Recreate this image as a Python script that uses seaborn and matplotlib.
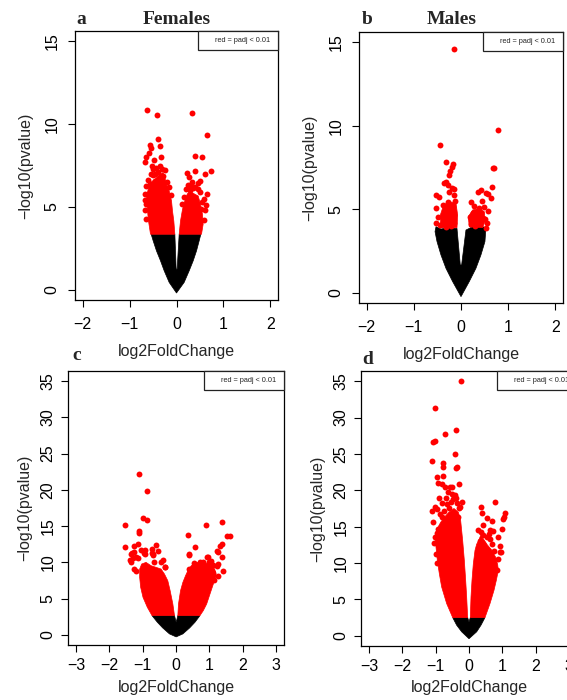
import matplotlib
matplotlib.use('Agg')
import matplotlib.pyplot as plt
from matplotlib.patches import Rectangle
import pandas as pd
import seaborn as sns

sns.set_theme(style='ticks')
plt.rcParams['font.family'] = ['Liberation Sans', 'DejaVu Sans']

# ---- panel a (Females) ----
a_black_x = [0, -0.156, -0.262, -0.34, -0.426, -0.496, -0.539, -0.035, -0.007, 0.014, 0.057, 0.518, 0.482, 0.426, 0.355, 0.27, 0.163]
a_black_y = [-0.18, 0.46, 1.16, 1.76, 2.36, 2.96, 3.36, 3.36, 1.26, 1.26, 3.36, 3.36, 2.96, 2.36, 1.76, 1.16, 0.46]
a_redL_x = [-0.035, -0.057, -0.085, -0.106, -0.156, -0.213, -0.248, -0.284, -0.355, -0.461, -0.553, -0.603, -0.638, -0.624, -0.596, -0.553]
a_redL_y = [3.36, 4.16, 4.76, 5.37, 5.97, 6.37, 6.77, 7.07, 6.97, 6.67, 6.47, 6.07, 5.57, 4.97, 4.16, 3.36]
a_redR_x = [0.057, 0.085, 0.128, 0.177, 0.227, 0.284, 0.39, 0.461, 0.511, 0.553, 0.567, 0.532]
a_redR_y = [3.36, 4.16, 4.86, 5.37, 5.77, 5.97, 5.77, 5.67, 5.17, 4.56, 3.96, 3.36]
a_pts_x = [-0.62, -0.42, 0.33, 0.65, -0.39, -0.57, -0.35, -0.55, -0.59, -0.65, -0.67, -0.48, -0.32, 0.40, 0.55,
           0.74, 0.40, 0.23, 0.61, 0.50, 0.26, 0.32, 0.24, 0.46, 0.65, 0.63, 0.28, 0.35, 0.46, -0.53,
           -0.50, -0.43, -0.35, -0.28, -0.32, -0.57, -0.46, -0.39, -0.64, -0.67, -0.60, -0.64, -0.40, -0.20, 0.55, 0.52,
           -0.60, -0.50, -0.55, -0.45, -0.30, -0.25, -0.15, -0.12, 0.20, 0.30, 0.40, 0.50, 0.58, 0.60, 0.58,
           -0.66, -0.68, -0.64, 0.15, 0.12]
a_pts_y = [10.87, 10.55, 10.67, 9.35, 9.07, 8.73, 8.67, 8.53, 8.25, 7.99, 7.73, 7.81, 8.01, 8.05, 8.03,
           7.19, 7.19, 7.03, 6.97, 6.59, 6.79, 6.53, 6.33, 6.45, 5.77, 5.10, 6.0, 6.13, 6.07, 7.47,
           7.27, 7.37, 7.47, 6.87, 6.57, 6.37, 6.57, 6.27, 6.27, 5.77, 5.77, 5.17, 7.1, 6.5, 5.3, 4.9,
           6.6, 6.9, 7.0, 7.0, 7.3, 7.2, 6.2, 5.7, 6.1, 6.3, 6.2, 5.9, 5.5, 4.8, 4.2,
           5.4, 4.8, 4.3, 5.6, 5.2]

# ---- panel b (Males) ----
b_black_x = [0, -0.177, -0.318, -0.424, -0.508, -0.55, -0.529, -0.424, -0.283, -0.085, -0.015, 0.013, 0.105, 0.246, 0.387, 0.528, 0.507, 0.422, 0.316, 0.175]
b_black_y = [-0.22, 0.68, 1.47, 2.27, 3.07, 3.67, 3.96, 3.82, 3.90, 3.86, 1.67, 1.67, 3.76, 3.96, 4.02, 3.90, 3.07, 2.27, 1.47, 0.68]
b_redL_x = [-0.424, -0.438, -0.367, -0.247, -0.106, -0.071, -0.085]
b_redL_y = [3.90, 4.66, 5.26, 5.46, 5.36, 4.66, 3.90]
b_redR_x = [0.175, 0.154, 0.246, 0.387, 0.493, 0.507, 0.457]
b_redR_y = [3.96, 4.56, 4.96, 5.06, 4.86, 4.26, 3.90]
b_pts_x = [-0.155, 0.775, -0.45, 0.70, 0.68, -0.32, -0.18, -0.19, -0.23, -0.26, -0.32, -0.28, -0.37, 0.65, 0.42,
           0.35, 0.53, 0.64, 0.58, 0.44, 0.21, 0.27, 0.39, 0.49, 0.58, 0.18, 0.35, 0.46, 0.28, 0.52,
           0.56, -0.53, -0.46, -0.14, -0.25, -0.28, -0.39, -0.18, -0.53, -0.49, -0.32, -0.14, -0.53, -0.39, -0.25,
           -0.14, -0.44, -0.32, -0.21, -0.12, -0.20, -0.15, 0.22, 0.30, 0.42, 0.50, 0.25]
b_pts_y = [14.58, 9.72, 8.84, 7.49, 7.45, 7.81, 7.69, 7.55, 7.29, 7.05, 6.65, 6.45, 6.55, 6.31, 6.15,
           6.06, 5.96, 5.66, 5.9, 5.52, 5.46, 5.22, 5.06, 5.16, 4.92, 4.56, 4.5, 4.46, 4.4, 3.86,
           4.2, 5.86, 5.76, 5.86, 6.06, 5.46, 5.26, 5.16, 5.06, 4.56, 4.76, 4.66, 4.16, 4.26, 4.26,
           4.16, 4.06, 3.96, 4.0, 5.5, 6.3, 6.2, 4.1, 4.0, 4.8, 4.4, 4.8]

# ---- panel c ----
c_black_x = [-0.72, -0.56, -0.40, -0.196, 0.005, 0.206, 0.41, 0.57, 0.72, 0.055, 0.005, -0.045]
c_black_y = [2.66, 1.74, 0.96, 0.13, -0.28, 0.13, 0.96, 1.74, 2.66, 2.66, 1.74, 2.66]
c_redL_x = [-0.72, -0.86, -0.99, -1.06, -1.09, -1.09, -1.03, -0.899, -0.748, -0.597, -0.447, -0.346, -0.246, -0.176, -0.095, -0.045]
c_redL_y = [2.66, 3.80, 5.18, 6.56, 7.93, 9.08, 9.77, 10.0, 9.54, 9.31, 9.08, 8.39, 7.47, 6.10, 4.27, 2.66]
c_redR_x = [0.055, 0.075, 0.136, 0.206, 0.286, 0.356, 0.457, 0.607, 0.808, 1.009, 1.16, 1.21, 1.12, 1.02, 0.92, 0.82, 0.72]
c_redR_y = [2.66, 4.26, 6.10, 7.24, 8.16, 8.85, 9.54, 10.0, 10.0, 9.77, 9.08, 8.16, 7.01, 5.64, 4.26, 3.35, 2.66]
c_pts_x = [-1.12, -0.86, -1.52, -1.0, -0.87, -1.12, -1.10, -1.52, -1.25, -1.15, -1.35, -1.25, -1.37, -1.30, -1.15,
           -1.25, -1.20, -1.05, -0.93, -0.93, -0.71, -0.60, -0.55, -0.72, -0.68, -0.40, -0.33, 0.37, 0.57, 0.39,
           0.89, 1.39, 1.53, 1.61, 1.39, 1.31, 1.24, 1.39, 0.93, 0.71, 0.81, 0.99, 1.26, 1.11, 0.56,
           0.40, 1.15, 1.11, 1.0, -1.32, -1.20, -1.35, -0.95, -0.70, -0.65, -0.45, -0.32, 0.39, 0.95, 1.26,
           1.23, 1.41, 1.26, 1.09, 0.53, 0.81, 1.06]
c_pts_y = [22.25, 19.8, 15.1, 16.1, 15.9, 14.3, 14.1, 12.1, 12.3, 12.5, 11.2, 11.4, 10.3, 10.6, 10.6,
           9.1, 8.85, 11.7, 11.7, 11.2, 11.8, 12.4, 11.5, 11.3, 11.0, 10.3, 9.3, 13.8, 12.1, 11.1,
           15.1, 15.6, 13.7, 13.7, 12.6, 12.3, 11.6, 10.7, 10.8, 10.0, 10.1, 10.0, 9.8, 9.7, 9.6,
           9.1, 7.5, 8.6, 8.4, 11.24, 10.68, 10.0, 11.24, 11.14, 10.0, 10.0, 9.31, 11.05, 10.77, 11.37,
           9.54, 8.85, 8.16, 8.85, 9.85, 9.77, 10.2]

# ---- panel d ----
d_black_x = [-0.49, -0.37, -0.22, 0.0, 0.23, 0.36, 0.48, 0.04, 0.0, -0.04]
d_black_y = [2.51, 1.46, 0.55, -0.4, 0.55, 1.46, 2.51, 2.51, 1.92, 2.51]
d_redL_x = [-0.49, -0.67, -0.82, -0.89, -0.95, -0.99, -1.02, -0.97, -0.85, -0.70, -0.60, -0.45, -0.32, -0.25, -0.19, -0.14, -0.10, -0.07, -0.04]
d_redL_y = [2.51, 4.43, 6.71, 8.54, 10.37, 12.19, 13.6, 14.6, 15.6, 16.5, 17.0, 17.5, 17.0, 15.84, 13.11, 10.37, 7.63, 5.34, 2.51]
d_redR_x = [0.04, 0.06, 0.09, 0.13, 0.18, 0.23, 0.28, 0.35, 0.45, 0.55, 0.68, 0.80, 0.86, 0.88, 0.82, 0.75, 0.63, 0.48]
d_redR_y = [2.51, 5.34, 7.63, 9.91, 11.74, 12.6, 13.0, 13.8, 13.2, 12.5, 11.8, 10.8, 9.8, 9.0, 7.63, 6.26, 4.43, 2.51]
d_pts_x = [-0.24, -1.02, -0.39, -0.72, -1.02, -1.09, -0.42, -1.12, -0.79, -0.77, -0.37, -0.38, -0.95, -0.77, -0.29,
           -0.92, -0.82, -0.72, -0.57, -0.52, -0.62, -0.52, -0.42, -0.47, -0.69, -0.82, -1.02, -0.97, -1.10, -0.87,
           -0.82, -1.09, -0.92, -0.97, -1.02, -0.89, -0.67, -0.55, -0.35, -0.30, -0.21, -0.27, -0.32, -0.60, -0.75,
           -1.05, -1.00, -0.95, -0.40, -0.65,
           0.78, 0.36, 0.38, 1.08, 1.03, 0.53, 0.68, 0.43, 0.36, 0.41, 0.63, 0.73, 0.98, 0.88, 0.33,
           0.43, 0.63, 0.68, 0.93, 0.75, 0.93, 0.95, 0.83, 0.28, 0.55, 1.05, 0.60, 0.86]
d_pts_y = [35.07, 31.3, 28.3, 27.8, 26.8, 26.6, 25.0, 24.0, 23.8, 23.2, 23.2, 23.0, 21.8, 21.9, 20.8,
           20.95, 20.8, 20.5, 20.4, 20.5, 19.7, 19.5, 19.3, 18.8, 19.0, 18.2, 17.7, 17.4, 17.1, 16.8,
           16.3, 15.7, 14.7, 14.1, 13.6, 18.9, 18.1, 18.4, 18.2, 17.6, 18.4, 17.7, 16.3, 17.5, 17.2,
           12.8, 11.3, 10.0, 18.9, 16.0,
           18.45, 17.7, 16.9, 16.9, 16.1, 16.2, 15.75, 15.2, 14.3, 13.8, 14.6, 14.4, 14.7, 13.6, 13.1,
           12.6, 13.3, 12.6, 12.3, 11.7, 11.5, 11.5, 9.0, 14.6, 13.6, 16.4, 14.0, 10.5]

W, H = 567, 700
fig = plt.figure(figsize=(W / 100, H / 100), dpi=100)


def px_axes(left, top, right, bottom):
    return fig.add_axes([left / W, 1 - bottom / H, (right - left) / W, (bottom - top) / H])


def volcano(ax, black, reds, pts, xlim, ylim, xticks, yticks, xpad, xlpad, ypad, ylpad):
    ax.fill(black[0], black[1], color='black', lw=0.5)
    for rx, ry in reds:
        ax.fill(rx, ry, color='#ff0000', lw=0.5)
    df = pd.DataFrame({'log2FoldChange': pts[0], 'pvalue': pts[1]})
    sns.scatterplot(data=df, x='log2FoldChange', y='pvalue', color='#ff0000',
                    s=18, linewidth=0, ax=ax)
    ax.set_xlim(*xlim)
    ax.set_ylim(*ylim)
    ax.set_xticks(xticks)
    ax.set_yticks(yticks)
    ax.tick_params(axis='both', direction='out', length=5, width=0.8,
                   labelsize=11.5, color='black', labelcolor='black')
    ax.tick_params(axis='x', pad=xpad)
    ax.tick_params(axis='y', pad=ypad, labelrotation=90)
    for lbl in ax.get_yticklabels():
        lbl.set_va('center')
    for sp in ax.spines.values():
        sp.set_linewidth(0.9)
        sp.set_color('black')
    ax.set_xlabel('log2FoldChange', fontsize=11.5, labelpad=xlpad)
    ax.set_ylabel('\u2212log10(pvalue)', fontsize=11.5, labelpad=ylpad)
    # legend box in top right corner
    bb = ax.get_position()
    aw, ah = bb.width * W, bb.height * H
    bw, bh = 80 / aw, 19 / ah
    ax.add_patch(Rectangle((1 - bw, 1 - bh), bw, bh, transform=ax.transAxes,
                           fc='white', ec='#222222', lw=0.9, clip_on=False, zorder=5))
    ax.text(1 - 8 / aw, 1 - bh / 2, 'red = padj < 0.01', transform=ax.transAxes,
            ha='right', va='center', fontsize=5.3, zorder=6, clip_on=False)


ax_a = px_axes(75, 31, 278, 300)
volcano(ax_a, (a_black_x, a_black_y), [(a_redL_x, a_redL_y), (a_redR_x, a_redR_y)],
        (a_pts_x, a_pts_y), (-2.16, 2.16), (-0.6, 15.6), [-2, -1, 0, 1, 2], [0, 5, 10, 15],
        7, 9, 6, 8)

ax_b = px_axes(359, 32, 563, 303)
volcano(ax_b, (b_black_x, b_black_y), [(b_redL_x, b_redL_y), (b_redR_x, b_redR_y)],
        (b_pts_x, b_pts_y), (-2.16, 2.16), (-0.6, 15.6), [-2, -1, 0, 1, 2], [0, 5, 10, 15],
        7, 9, 6, 8)

ax_c = px_axes(68, 371, 284, 645)
volcano(ax_c, (c_black_x, c_black_y), [(c_redL_x, c_redL_y), (c_redR_x, c_redR_y)],
        (c_pts_x, c_pts_y), (-3.24, 3.24), (-1.4, 36.4), [-3, -2, -1, 0, 1, 2, 3],
        [0, 5, 10, 15, 20, 25, 30, 35], 4.5, 5, 4, 6)

ax_d = px_axes(361, 371, 577, 646)
volcano(ax_d, (d_black_x, d_black_y), [(d_redL_x, d_redL_y), (d_redR_x, d_redR_y)],
        (d_pts_x, d_pts_y), (-3.24, 3.24), (-1.4, 36.4), [-3, -2, -1, 0, 1, 2, 3],
        [0, 5, 10, 15, 20, 25, 30, 35], 4.5, 4.5, 4, 6)

# panel letters and titles
serif = ['Liberation Serif', 'DejaVu Serif']
for x, y, s in [(81, 19, 'a'), (177, 20, 'Females'), (367, 20, 'b'), (452, 20, 'Males'),
                (77, 356, 'c'), (368, 359, 'd')]:
    fig.text(x / W, 1 - y / H, s, ha='center', va='center', fontsize=14,
             fontweight='bold', family=serif)

fig.savefig('out.png', dpi=100)
